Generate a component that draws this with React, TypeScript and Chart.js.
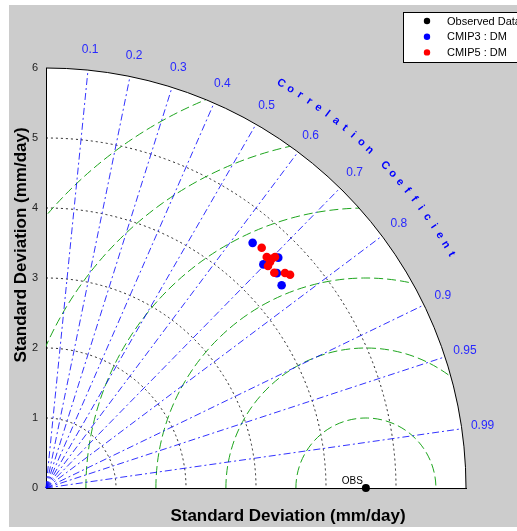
import { useEffect, useRef } from "react";
import { Chart, registerables } from "chart.js";

Chart.register(...registerables);

// ---------- data ----------
const STD_TICKS = [0, 1, 2, 3, 4, 5, 6];
const STD_MAX = 6;
const STD_ARCS = [1, 2, 3, 4, 5];
const RMSD_ARCS = [1, 2, 3, 4, 5, 6];
const CORR_VALUES = [0.1, 0.2, 0.3, 0.4, 0.5, 0.6, 0.7, 0.8, 0.9, 0.95, 0.99];
const CORR_LABELS = ["0.1", "0.2", "0.3", "0.4", "0.5", "0.6", "0.7", "0.8", "0.9", "0.95", "0.99"];
const OBS_STD = 4.57;
const CMIP3_STD = [4.58, 4.455, 4.673, 4.505, 4.441];
const CMIP3_CORR = [0.6445, 0.697, 0.71, 0.732, 0.758];
const CMIP5_STD = [4.613, 4.564, 4.596, 4.647, 4.546, 4.485, 4.483, 4.592, 4.63];
const CMIP5_CORR = [0.668, 0.691, 0.7015, 0.704, 0.704, 0.707, 0.7275, 0.7435, 0.753];
const LEGEND_LABELS = ["Observed Data", "CMIP3 : DM", "CMIP5 : DM"];
const LEGEND_COLORS = ["#000000", "#0000ff", "#ff0000"];
const AXIS_TITLE = "Standard Deviation (mm/day)";
const CORR_TITLE = "Correlation Coefficient";
const OBS_LABEL = "OBS";

const FONT = "'Liberation Sans', Arial, Helvetica, sans-serif";

const toXY = (s: number, c: number) => ({ x: s * c, y: s * Math.sqrt(Math.max(0, 1 - c * c)) });

export default function App() {
  const ref = useRef<HTMLCanvasElement>(null);

  useEffect(() => {
    const canvas = ref.current!;

    const geom = (chart: any) => {
      const xs = chart.scales.x;
      const ys = chart.scales.y;
      const ox = xs.getPixelForValue(0);
      const oy = ys.getPixelForValue(0);
      const k = xs.getPixelForValue(1) - ox;
      return { xs, ys, ox, oy, k, R: k * STD_MAX };
    };

    const plugin = {
      id: "taylor",
      beforeDraw(chart: any) {
        const ctx = chart.ctx;
        const { ox, oy, R } = geom(chart);
        ctx.save();
        ctx.fillStyle = "#ffffff";
        ctx.fillRect(0, 0, chart.width, chart.height);
        ctx.fillStyle = "#cccccc";
        ctx.fillRect(9, 5, chart.width - 9, chart.height - 9);
        ctx.fillStyle = "#ffffff";
        ctx.beginPath();
        ctx.moveTo(ox, oy);
        ctx.arc(ox, oy, R, -Math.PI / 2, 0);
        ctx.closePath();
        ctx.fill();
        ctx.restore();
      },
      beforeDatasetsDraw(chart: any) {
        const ctx = chart.ctx;
        const { xs, ox, oy, k, R } = geom(chart);
        ctx.save();
        ctx.beginPath();
        ctx.moveTo(ox, oy);
        ctx.arc(ox, oy, R, -Math.PI / 2, 0);
        ctx.closePath();
        ctx.clip();
        // std arcs
        ctx.strokeStyle = "rgba(0,0,0,0.85)";
        ctx.lineWidth = 1;
        ctx.setLineDash([2, 3]);
        STD_ARCS.forEach((r) => {
          ctx.beginPath();
          ctx.arc(ox, oy, r * k, -Math.PI / 2, 0);
          ctx.stroke();
        });
        // RMSD arcs
        const cx = xs.getPixelForValue(OBS_STD);
        ctx.strokeStyle = "rgb(30,165,30)";
        ctx.setLineDash([9, 4]);
        RMSD_ARCS.forEach((r) => {
          ctx.beginPath();
          ctx.arc(cx, oy, r * k, -Math.PI, 0);
          ctx.stroke();
        });
        ctx.restore();
      },
      afterDatasetsDraw(chart: any) {
        const ctx = chart.ctx;
        const { xs, ys, ox, oy, k, R } = geom(chart);
        ctx.save();
        // outer arc
        ctx.strokeStyle = "#000";
        ctx.lineWidth = 1;
        ctx.setLineDash([]);
        ctx.beginPath();
        ctx.arc(ox, oy, R, -Math.PI / 2, 0);
        ctx.stroke();

        // correlation labels
        ctx.fillStyle = "rgb(40,40,255)";
        ctx.font = `12px ${FONT}`;
        ctx.textAlign = "center";
        ctx.textBaseline = "middle";
        const LR = 6.3 * k;
        CORR_VALUES.forEach((c, i) => {
          const a = Math.acos(c);
          ctx.fillText(CORR_LABELS[i], ox + LR * Math.cos(a), oy - LR * Math.sin(a));
        });

        // curved title
        ctx.fillStyle = "#0000ff";
        ctx.font = `bold 11px ${FONT}`;
        const TR = 6.686 * k;
        const n = CORR_TITLE.length;
        const step = 1.357;
        for (let i = 0; i < n; i++) {
          const deg = 44.9 + ((n - 1) / 2 - i) * step;
          const a = (deg * Math.PI) / 180;
          ctx.save();
          ctx.translate(ox + TR * Math.cos(a), oy - TR * Math.sin(a));
          ctx.rotate(((90 - deg) * Math.PI) / 180);
          ctx.fillText(CORR_TITLE[i], 0, 0);
          ctx.restore();
        }

        // OBS label
        ctx.fillStyle = "#000";
        ctx.font = `10px ${FONT}`;
        ctx.textAlign = "right";
        ctx.textBaseline = "alphabetic";
        ctx.fillText(OBS_LABEL, xs.getPixelForValue(OBS_STD) - 3, ys.getPixelForValue(0) - 4);

        // axis titles
        ctx.font = `bold 17px ${FONT}`;
        ctx.textAlign = "center";
        ctx.fillText(AXIS_TITLE, 288, 521);
        ctx.save();
        ctx.translate(26, 245);
        ctx.rotate(-Math.PI / 2);
        ctx.fillText(AXIS_TITLE, 0, 0);
        ctx.restore();

        // legend
        ctx.fillStyle = "#ffffff";
        ctx.fillRect(403.5, 12.5, 130, 50);
        ctx.strokeStyle = "#000";
        ctx.strokeRect(403.5, 12.5, 130, 50);
        ctx.font = `11px ${FONT}`;
        ctx.textAlign = "left";
        ctx.textBaseline = "middle";
        LEGEND_LABELS.forEach((lab, i) => {
          const y = 21 + i * 15.7;
          ctx.fillStyle = LEGEND_COLORS[i];
          ctx.beginPath();
          ctx.arc(427, y, 3.2, 0, Math.PI * 2);
          ctx.fill();
          ctx.fillStyle = "#000";
          ctx.fillText(lab, 447, y + 0.5);
        });
        ctx.restore();
      },
    };

    const corrSets = CORR_VALUES.map((c) => ({
      label: "r " + c,
      data: [toXY(0, c), toXY(STD_MAX, c)],
      showLine: true,
      borderColor: "rgba(0,0,255,0.8)",
      borderWidth: 1,
      borderDash: [7, 3, 2, 3],
      pointRadius: 0,
      order: 5,
      clip: false,
    }));

    const chart = new Chart(canvas, {
      type: "scatter",
      data: {
        datasets: [
          ...corrSets,
          {
            label: LEGEND_LABELS[1],
            data: CMIP3_STD.map((s, i) => toXY(s, CMIP3_CORR[i])),
            backgroundColor: "#0000ff",
            borderColor: "#0000ff",
            pointRadius: 4.3,
            pointBorderWidth: 0,
            order: 2,
          },
          {
            label: LEGEND_LABELS[2],
            data: CMIP5_STD.map((s, i) => toXY(s, CMIP5_CORR[i])),
            backgroundColor: "#ff0000",
            borderColor: "#ff0000",
            pointRadius: 4.3,
            pointBorderWidth: 0,
            order: 1,
          },
          {
            label: LEGEND_LABELS[0],
            data: [toXY(OBS_STD, 1)],
            backgroundColor: "#000000",
            borderColor: "#000000",
            pointRadius: 4,
            pointBorderWidth: 0,
            order: 0,
            clip: false,
          },
        ] as any,
      },
      options: {
        animation: false,
        responsive: false,
        devicePixelRatio: 1,
        events: [],
        layout: { padding: { left: 0, top: 68, right: 51, bottom: 0 } },
        plugins: { legend: { display: false }, tooltip: { enabled: false } },
        scales: {
          x: {
            type: "linear",
            min: 0,
            max: STD_MAX,
            ticks: { display: false },
            grid: { display: false, drawTicks: false, tickLength: 0 },
            border: { display: true, color: "#000", width: 1 },
            afterFit: (s: any) => {
              s.height = 43;
            },
          },
          y: {
            type: "linear",
            min: 0,
            max: STD_MAX,
            afterBuildTicks: (s: any) => {
              s.ticks = STD_TICKS.map((v) => ({ value: v }));
            },
            ticks: {
              color: "#222",
              font: { family: FONT, size: 11 },
              padding: 8,
            },
            grid: { display: false, drawTicks: false, tickLength: 0 },
            border: { display: true, color: "#000", width: 1 },
            afterFit: (s: any) => {
              s.width = 46;
            },
          },
        },
      } as any,
      plugins: [plugin],
    });

    return () => chart.destroy();
  }, []);

  return (
    <div style={{ position: "absolute", left: 0, top: 0, width: 517, height: 531 }}>
      <canvas ref={ref} width={517} height={531} style={{ width: 517, height: 531, display: "block" }} />
    </div>
  );
}
